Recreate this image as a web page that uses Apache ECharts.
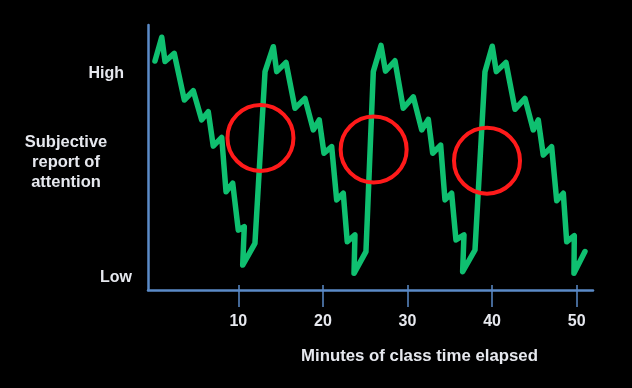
<!DOCTYPE html>
<html>
<head>
<meta charset="utf-8">
<script src="https://cdn.jsdelivr.net/npm/echarts@6/dist/echarts.min.js"></script>
<style>
html,body{margin:0;padding:0;background:#000;}
#chart{width:632px;height:388px;}
</style>
</head>
<body>
<div id="chart"></div>
<script>
// Minutes of class time elapsed (x) and subjective attention (0 = bottom of axis, 100 = top)
var minutes = [0.15,0.95,1.34,2.43,3.62,4.68,5.67,6.45,7.04,8.04,8.55,9.34,10.0,10.71,10.52,11.97,
  13.16,14.14,14.54,15.64,16.70,17.88,18.87,19.57,20.13,21.04,21.63,22.41,22.88,23.79,23.68,25.09,
  25.96,26.87,27.40,28.52,29.50,30.69,31.68,32.46,32.98,33.92,34.43,35.22,35.73,36.68,36.52,37.98,
  39.16,40.02,40.50,41.64,42.71,43.89,44.87,45.46,46.05,47.04,47.64,48.42,48.82,49.72,49.68,50.98];
var attention = [86.4,95.4,86.2,89.3,71.7,75.2,64.2,67.3,54.3,57.6,37.1,40.3,22.6,23.9,9.4,17.6,
  82.4,91.8,82.4,85.9,68.6,72.3,60.4,64.2,51.6,54.1,34.0,36.5,18.2,20.8,6.3,14.5,
  82.4,92.3,82.6,86.5,68.6,72.9,60.4,64.4,51.6,54.7,34.0,36.5,18.9,20.8,6.9,15.1,
  82.4,92.0,82.4,85.9,68.2,72.3,60.4,64.2,50.9,54.1,33.7,36.5,18.2,20.5,6.3,14.5];
// Highlighted attention transitions (circle centres)
var circleMinutes = [12.62, 26.0, 39.4];
var circleAttention = [57.4, 53.0, 48.8];
// Tick labels
var xTickValues = [10, 20, 30, 40, 50];
var yLabelValues = [4.6, 81.5];
var yLabelTexts = ['Low', 'High'];
var xAxisTitle = 'Minutes of class time elapsed';
var yAxisTitle = 'Subjective\nreport of\nattention';

var lineData = minutes.map(function (m, i) { return [m, attention[i]]; });
var circleData = circleMinutes.map(function (m, i) { return [m, circleAttention[i]]; });

var axisColor = '#5b8bc8';
var textColor = '#e6e8ee';
var font = '"Liberation Sans", Arial, sans-serif';

var chart = echarts.init(document.getElementById('chart'));
chart.setOption({
  backgroundColor: '#000000',
  animation: false,
  grid: { left: 148, right: 39, top: 25, bottom: 98 },
  xAxis: [{
    type: 'value', min: -0.674, max: 51.93, position: 'bottom',
    splitLine: { show: false },
    axisLine: { show: true, onZero: false, lineStyle: { color: axisColor, width: 2.5 } },
    axisTick: { show: true, inside: false, length: 17, customValues: xTickValues,
      lineStyle: { color: axisColor, width: 1.5 } },
    axisLabel: { show: true, customValues: xTickValues, margin: 24,
      color: textColor, fontSize: 16, fontWeight: 'bold', fontFamily: font }
  }, {
    type: 'value', min: -0.674, max: 51.93, position: 'bottom',
    splitLine: { show: false },
    axisLine: { show: false, onZero: false },
    axisTick: { show: true, inside: true, length: 5, customValues: xTickValues,
      lineStyle: { color: axisColor, width: 1.5 } },
    axisLabel: { show: false }
  }],
  yAxis: {
    type: 'value', min: 0, max: 100,
    splitLine: { show: false },
    axisLine: { show: true, onZero: false, lineStyle: { color: axisColor, width: 2.5 } },
    axisTick: { show: false },
    axisLabel: {
      show: true, customValues: yLabelValues, margin: 16,
      formatter: function (v) {
        var idx = yLabelValues.indexOf(v);
        var t = idx >= 0 ? yLabelTexts[idx] : '';
        return t === 'High' ? '{h|' + t + '}' : '{l|' + t + '}';
      },
      rich: {
        h: { color: textColor, fontSize: 16, fontWeight: 'bold', fontFamily: font, padding: [0, 8, 0, 0] },
        l: { color: textColor, fontSize: 16, fontWeight: 'bold', fontFamily: font }
      }
    }
  },
  graphic: [{
    type: 'text', x: 66, y: 162,
    style: { text: yAxisTitle, fill: textColor, font: 'bold 16.5px ' + font,
      align: 'center', verticalAlign: 'middle', lineHeight: 20 }
  }, {
    type: 'text', x: 419.5, y: 356,
    style: { text: xAxisTitle, fill: textColor, font: 'bold 16.8px ' + font,
      align: 'center', verticalAlign: 'middle' }
  }],
  series: [{
    type: 'line', data: lineData, showSymbol: false, symbol: 'none',
    lineStyle: { color: '#0fc070', width: 5.5, join: 'round', cap: 'round' },
    z: 2
  }, {
    type: 'scatter', data: circleData, symbol: 'circle', symbolSize: 66,
    itemStyle: { color: 'rgba(0,0,0,0)', borderColor: '#ff1a1a', borderWidth: 4, opacity: 1 },
    z: 3
  }]
});
</script>
</body>
</html>
